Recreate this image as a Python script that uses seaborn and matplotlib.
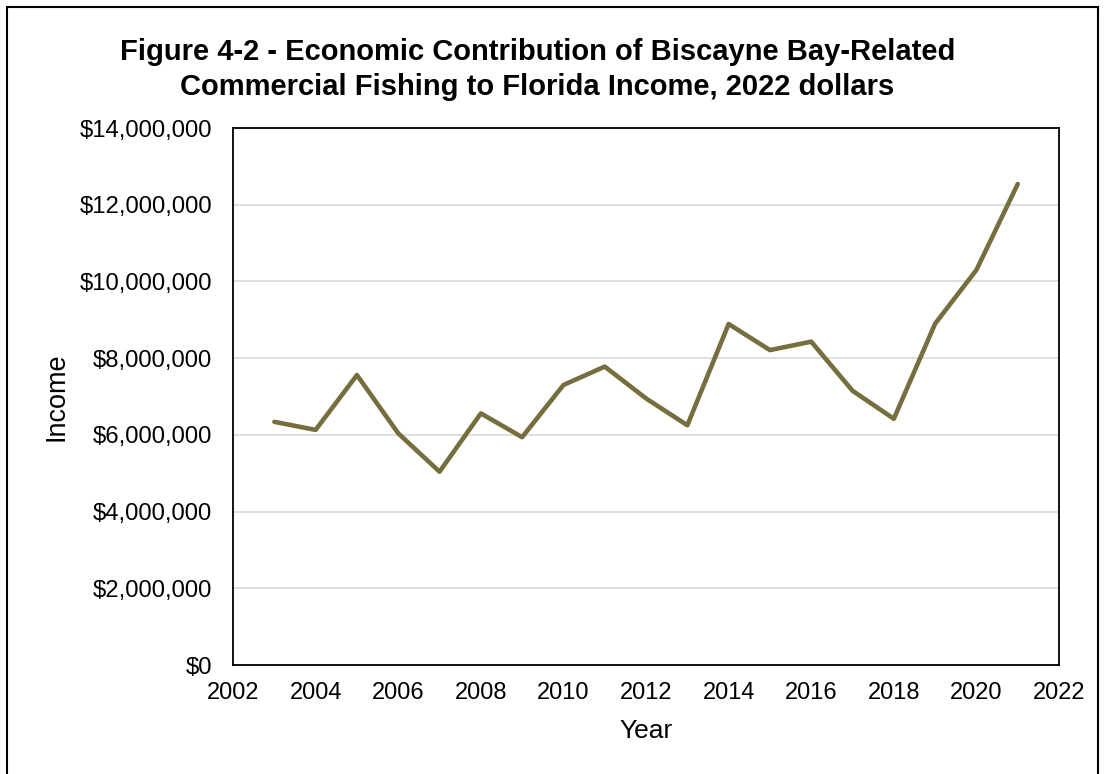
import matplotlib
matplotlib.use("Agg")
import matplotlib.pyplot as plt
import matplotlib.ticker as mticker
from matplotlib.patches import Rectangle
import pandas as pd
import seaborn as sns

# --- Data ---
years = [2003, 2004, 2005, 2006, 2007, 2008, 2009, 2010, 2011, 2012,
         2013, 2014, 2015, 2016, 2017, 2018, 2019, 2020, 2021]
income = [6.34e6, 6.13e6, 7.56e6, 6.04e6, 5.04e6, 6.56e6, 5.94e6, 7.30e6,
          7.78e6, 6.95e6, 6.25e6, 8.89e6, 8.21e6, 8.43e6, 7.15e6, 6.42e6,
          8.90e6, 10.30e6, 12.54e6]
title = ("Figure 4-2 - Economic Contribution of Biscayne Bay-Related\n"
         "Commercial Fishing to Florida Income, 2022 dollars")

df = pd.DataFrame({"Year": years, "Income": income})

# --- Plot ---
sns.set_style("white")
plt.rcParams["font.family"] = ["Liberation Sans", "DejaVu Sans"]
plt.rcParams.update({"text.color": "black", "axes.labelcolor": "black",
                     "xtick.color": "black", "ytick.color": "black"})

fig = plt.figure(figsize=(11.05, 7.74), dpi=100)
ax = fig.add_axes([0.2109, 0.1408, 0.7475, 0.6938])

sns.lineplot(data=df, x="Year", y="Income", ax=ax, color="#776e3f", linewidth=3.3)

ax.set_xlim(2002, 2022)
ax.set_ylim(0, 14e6)
ax.xaxis.set_major_locator(mticker.MultipleLocator(2))
ax.yaxis.set_major_locator(mticker.MultipleLocator(2e6))
ax.yaxis.set_major_formatter(mticker.FuncFormatter(lambda v, p: f"${v:,.0f}"))
ax.grid(axis="y", color="#d9d9d9", linewidth=1.2)
ax.set_axisbelow(True)

for s in ax.spines.values():
    s.set_color("black")
    s.set_linewidth(1.3)

ax.tick_params(axis="x", direction="in", length=5, width=1, labelsize=17, pad=12)
ax.tick_params(axis="y", length=0, labelsize=17.2, pad=15)
ax.set_xlabel("Year", fontsize=19, labelpad=11)
ax.set_ylabel("Income", fontsize=19.5, labelpad=7)

fig.text(0.4864, 0.910, title, ha="center", va="center", fontsize=21,
         fontweight="bold", linespacing=1.32)

# outer chart border
fig.patches.append(Rectangle((7 / 1105, -0.05), 1091 / 1105, 1.05 - 7 / 774,
                             transform=fig.transFigure, fill=False,
                             edgecolor="black", linewidth=1.5))

fig.savefig("out.png", dpi=100)
